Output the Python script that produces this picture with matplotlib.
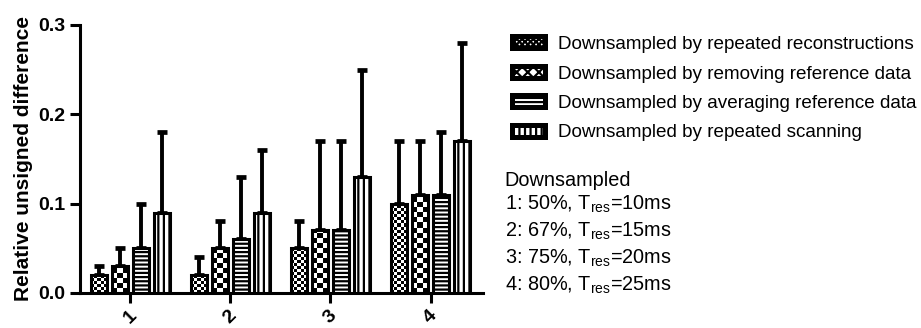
import matplotlib
matplotlib.use("Agg")
import matplotlib.pyplot as plt
import numpy as np

plt.rcParams['font.family'] = ['Liberation Sans', 'DejaVu Sans']
plt.rcParams['mathtext.fontset'] = 'custom'
plt.rcParams['mathtext.rm'] = 'Liberation Sans'
plt.rcParams['mathtext.it'] = 'Liberation Sans'
plt.rcParams['hatch.linewidth'] = 1.6

groups = ["1", "2", "3", "4"]
series_names = [
    "Downsampled by repeated reconstructions",
    "Downsampled by removing reference data",
    "Downsampled by averaging reference data",
    "Downsampled by repeated scanning",
]
means = [
    [0.02, 0.02, 0.05, 0.10],
    [0.03, 0.05, 0.07, 0.11],
    [0.05, 0.06, 0.07, 0.11],
    [0.09, 0.09, 0.13, 0.17],
]
upper_err = [
    [0.01, 0.02, 0.03, 0.07],
    [0.02, 0.03, 0.10, 0.06],
    [0.05, 0.07, 0.10, 0.07],
    [0.09, 0.07, 0.12, 0.11],
]
hatches = ["xxxxx", "xx", "----", "|||"]
legend_hatches = ["xxxxxx", "xxx", "----", "|||"]
checker_px = [3.0, 5.0, None, None]
note_title = "Downsampled"
note_lines = [
    r"1: 50%, T$_{\mathrm{res}}$=10ms",
    r"2: 67%, T$_{\mathrm{res}}$=15ms",
    r"3: 75%, T$_{\mathrm{res}}$=20ms",
    r"4: 80%, T$_{\mathrm{res}}$=25ms",
]

fig = plt.figure(figsize=(9.21, 3.28), dpi=100)
ax = fig.add_axes([0.087, 0.107, 0.437, 0.817])
ax.set_xlim(-0.5, 3.52)
ax.set_ylim(0, 0.3)

x = np.arange(len(groups))
pitch = 0.21
width = 0.16
lw = 2.2


def add_checker(ax, patch, cell_px):
    # fill a bar with a black/white checkerboard, clipped to the bar
    bx, by = patch.get_x(), patch.get_y()
    bw, bh = patch.get_width(), patch.get_height()
    p0 = ax.transData.transform((bx, by))
    p1 = ax.transData.transform((bx + bw, by + bh))
    wpx, hpx = abs(p1[0] - p0[0]), abs(p1[1] - p0[1])
    nx = int(np.ceil(wpx / cell_px)) + 1
    ny = int(np.ceil(hpx / cell_px)) + 1
    cx = bw * cell_px / wpx
    cy = bh * cell_px / hpx
    ii, jj = np.indices((ny, nx))
    arr = ((ii + jj) % 2).astype(float)
    im = ax.imshow(arr, cmap="gray", interpolation="nearest", aspect="auto",
                   extent=(bx, bx + nx * cx, by, by + ny * cy), origin="lower",
                   zorder=2.5)
    im.set_clip_path(patch)


handles = []
for i in range(4):
    pos = x + (i - 1.5) * pitch
    if checker_px[i] is None:
        bars = ax.bar(pos, means[i], width, facecolor="white", edgecolor="black",
                      linewidth=lw, hatch=hatches[i], zorder=3)
    else:
        bars = ax.bar(pos, means[i], width, facecolor="none", edgecolor="black",
                      linewidth=lw, zorder=3)
        for p in bars.patches:
            add_checker(ax, p, checker_px[i])
    ax.errorbar(pos, means[i], yerr=[np.zeros(4), upper_err[i]], fmt="none",
                ecolor="black", elinewidth=lw + 0.6, capsize=3.8, capthick=lw + 1.2,
                zorder=2)
    proxy = plt.Rectangle((0, 0), 1, 1, facecolor="white", edgecolor="black",
                          linewidth=3.6, hatch=legend_hatches[i], joinstyle="round")
    handles.append(proxy)

ax.set_xlim(-0.5, 3.52)
ax.set_ylim(0, 0.3)
ax.set_yticks([0.0, 0.1, 0.2, 0.3])
ax.set_yticklabels(["0.0", "0.1", "0.2", "0.3"], fontsize=14, fontweight="bold")
ax.set_xticks(x)
ax.set_xticklabels(groups, fontsize=14, fontweight="bold", rotation=45)
ax.set_ylabel("Relative unsigned difference", fontsize=15, fontweight="bold", labelpad=4)
for s in ["top", "right"]:
    ax.spines[s].set_visible(False)
for s in ["left", "bottom"]:
    ax.spines[s].set_linewidth(2.2)
ax.tick_params(axis="both", width=2.2, length=7, direction="out")

leg = fig.legend(handles=handles, labels=series_names, loc="upper left",
                 bbox_to_anchor=(0.556, 0.89),
                 frameon=False, fontsize=13.6, handlelength=1.75, handleheight=0.6,
                 handletextpad=0.68, labelspacing=0.66, borderaxespad=0, borderpad=0)

fig.text(0.548, 1 - 180 / 328, note_title, fontsize=14.3, va="center", ha="left")
for k, line in enumerate(note_lines):
    fig.text(0.548, 1 - (204 + k * 27) / 328, line, fontsize=14.3, va="center", ha="left")

fig.savefig("out.png", dpi=100)
